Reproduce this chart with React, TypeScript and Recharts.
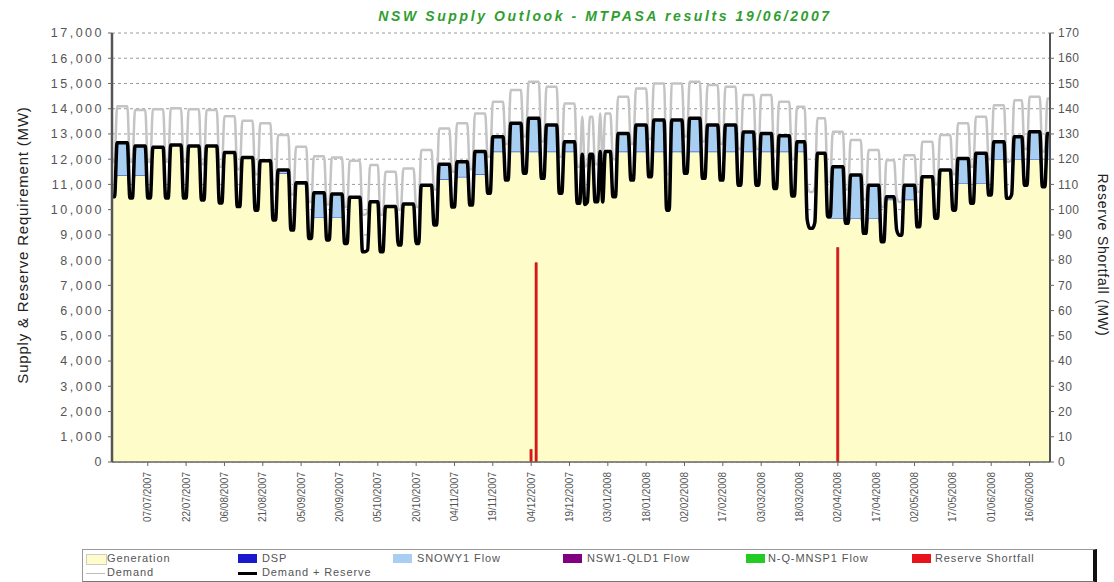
import React from "react";
import { ComposedChart, Area, Line, Bar, XAxis, YAxis, CartesianGrid } from "recharts";

// one value per week, weeks start on Saturday 23/06/2007 (Sat+Sun = low, Mon-Fri = high)
const demandReserveHigh = [
  12650, 12520, 12470, 12560, 12520, 12520, 12260, 12070, 11940, 11570,
  11070, 10670, 10620, 10490, 10310, 10120, 10220, 10970, 11800, 11900,
  12300, 12890, 13420, 13620, 13350, 12690, 12200, 12300, 13020, 13350,
  13550, 13550, 13620, 13350, 13350, 13080, 13020, 12930, 12690, 12230,
  11700, 11370, 10970, 10510, 10970, 11300, 11570, 12030, 12230, 12690,
  12890, 13090, 13020,
];
const demandReserveLow = [
  10510, 10460, 10460, 10460, 10460, 10380, 10260, 10120, 9980, 9590,
  9190, 8860, 8800, 8660, 8330, 8330, 8600, 8660, 9390, 10100,
  10180, 10650, 11170, 11440, 11240, 10650, 10250, 10310, 10510, 11170,
  11300, 9980, 11440, 11240, 11170, 10970, 10970, 10840, 10540, 9260,
  9720, 9460, 9060, 8730, 8990, 9320, 9660, 9980, 10250, 10580,
  10450, 10970, 10910,
];
const demandHigh = [
  14100, 13950, 13980, 14020, 13980, 13950, 13700, 13520, 13420, 12960,
  12490, 12120, 12070, 11940, 11770, 11500, 11630, 12360, 13220, 13420,
  13810, 14280, 14740, 15070, 14870, 14210, 13680, 13810, 14470, 14800,
  15000, 15000, 15070, 14940, 14870, 14540, 14540, 14280, 14080, 13620,
  13090, 12760, 12360, 11960, 12160, 12690, 12960, 13420, 13680, 14140,
  14340, 14470, 14400,
];
const demandLow = [
  11900, 11900, 11900, 11900, 11900, 11800, 11700, 11600, 11400, 11000,
  10600, 10300, 10200, 10100, 9800, 9800, 10000, 10100, 10800, 11500,
  11600, 12100, 12600, 12900, 12700, 12100, 11700, 11800, 12000, 12600,
  12800, 11400, 12900, 12700, 12600, 12400, 12400, 12300, 12000, 10700,
  11100, 10800, 10400, 10100, 10300, 10700, 11000, 11400, 11700, 12000,
  11900, 12400, 12300,
];
const generationCap = [
  11370, 11370, 12600, 12600, 12600, 12600, 12600, 12600, 12600, 11450,
  11000, 9700, 9700, 11000, 11000, 11000, 11000, 11050, 11200, 11300,
  11400, 12300, 12300, 12300, 12300, 12300, 12300, 12300, 12300, 12300,
  12300, 12300, 12300, 12300, 12300, 12300, 12300, 12300, 12300, 12300,
  9660, 9660, 9660, 10400, 10400, 11600, 11600, 11050, 11050, 12000,
  12000, 12000, 12000,
];

// public holidays: day index, demand+reserve, demand
const holidayDays = [100, 185, 186, 192, 272, 275, 307, 352];
const holidayDemandReserve = [8400, 10200, 10300, 10300, 9600, 9500, 9200, 10600];
const holidayDemand = [9900, 11700, 11800, 11800, 11000, 10900, 10500, 12000];

const shortfallDays = [164, 166, 284];
const shortfallValues = [5, 79, 85];

const tickDays = [14, 29, 44, 59, 74, 89, 104, 119, 134, 149, 164, 179, 194, 209, 224, 239, 254, 269, 284, 299, 314, 329, 344, 359];
const tickLabels = [
  "07/07/2007", "22/07/2007", "06/08/2007", "21/08/2007", "05/09/2007", "20/09/2007",
  "05/10/2007", "20/10/2007", "04/11/2007", "19/11/2007", "04/12/2007", "19/12/2007",
  "03/01/2008", "18/01/2008", "02/02/2008", "17/02/2008", "03/03/2008", "18/03/2008",
  "02/04/2008", "17/04/2008", "02/05/2008", "17/05/2008", "01/06/2008", "16/06/2008",
];

const leftTicks = [0, 1000, 2000, 3000, 4000, 5000, 6000, 7000, 8000, 9000, 10000, 11000, 12000, 13000, 14000, 15000, 16000, 17000];
const rightTicks = [0, 10, 20, 30, 40, 50, 60, 70, 80, 90, 100, 110, 120, 130, 140, 150, 160, 170];

const NUM_DAYS = 368;

const data = Array.from({ length: NUM_DAYS }, (_, d) => {
  const w = Math.floor(d / 7);
  const weekend = d % 7 < 2;
  let dr = weekend ? demandReserveLow[w] : demandReserveHigh[w];
  let dem = weekend ? demandLow[w] : demandHigh[w];
  const h = holidayDays.indexOf(d);
  if (h >= 0) {
    dr = holidayDemandReserve[h];
    dem = holidayDemand[h];
  }
  const cap = generationCap[w];
  const s = shortfallDays.indexOf(d);
  return {
    day: d,
    generation: Math.min(dr, cap),
    snowy: Math.max(0, dr - cap),
    demandReserve: dr,
    demand: dem,
    shortfall: s >= 0 ? shortfallValues[s] : null,
  };
});

const FONT = "'Liberation Sans', Arial, sans-serif";
const CURVE = "monotone";

const XTick = (props: any) => {
  const { x, y, payload } = props;
  const i = tickDays.indexOf(payload.value);
  const ty = y + 4;
  return (
    <text
      x={x}
      y={ty}
      transform={`rotate(-90 ${x} ${ty})`}
      textAnchor="end"
      dominantBaseline="central"
      fontSize={10}
      fontFamily={FONT}
      fill="#555"
    >
      {tickLabels[i]}
    </text>
  );
};

const legendRow1 = [
  { label: "Generation", color: "#fefcc8", x: 86, tx: 107 },
  { label: "DSP", color: "#1a1acc", x: 238, tx: 262 },
  { label: "SNOWY1 Flow", color: "#a8cff2", x: 393, tx: 417 },
  { label: "NSW1-QLD1 Flow", color: "#800080", x: 563, tx: 587 },
  { label: "N-Q-MNSP1 Flow", color: "#22cc22", x: 746, tx: 768 },
  { label: "Reserve Shortfall", color: "#e8141c", x: 912, tx: 935 },
];
const legendRow2 = [
  { label: "Demand", color: "#bbbbbb", x: 86, tx: 107 },
  { label: "Demand + Reserve", color: "#000000", x: 238, tx: 262 },
];

export default function App() {
  return (
    <div style={{ position: "absolute", left: 0, top: 0, width: 1114, height: 582, background: "#fff", fontFamily: FONT, overflow: "hidden" }}>
      <div
        style={{
          position: "absolute",
          left: 0,
          width: 1114,
          top: 8,
          textAlign: "center",
          paddingLeft: 96,
          boxSizing: "border-box",
          color: "#2f9e2f",
          fontWeight: "bold",
          fontStyle: "italic",
          fontSize: 14,
          letterSpacing: 2.6,
        }}
      >
        NSW Supply Outlook - MTPASA results 19/06/2007
      </div>
      <div
        style={{
          position: "absolute",
          left: 22,
          top: 245,
          transform: "translate(-50%, -50%) rotate(-90deg)",
          whiteSpace: "nowrap",
          fontSize: 15,
          letterSpacing: 0.8,
          color: "#222",
        }}
      >
        Supply &amp; Reserve Requirement (MW)
      </div>
      <div
        style={{
          position: "absolute",
          left: 1103,
          top: 255,
          transform: "translate(-50%, -50%) rotate(90deg)",
          whiteSpace: "nowrap",
          fontSize: 14,
          letterSpacing: 0.8,
          color: "#222",
        }}
      >
        Reserve Shortfall (MW)
      </div>
      <ComposedChart width={1114} height={548} data={data} margin={{ top: 33, right: 14, left: 40, bottom: 16 }}>
        <CartesianGrid yAxisId="left" vertical={false} stroke="#9a9a9a" strokeDasharray="3 3" />
        <XAxis
          dataKey="day"
          type="number"
          domain={[0, NUM_DAYS - 1]}
          ticks={tickDays}
          interval={0}
          height={70}
          tick={<XTick />}
          tickSize={4}
          stroke="#666"
          axisLine={{ stroke: "#666", strokeWidth: 1.5 }}
        />
        <YAxis
          yAxisId="left"
          width={72}
          domain={[0, 17000]}
          ticks={leftTicks}
          interval={0}
          tickSize={4}
          tickMargin={4}
          tickFormatter={(v: number) => v.toLocaleString("en-US")}
          tick={{ fontSize: 12.5, fill: "#555", fontFamily: FONT, letterSpacing: 2.5 }}
          axisLine={{ stroke: "#555", strokeWidth: 2.5 }}
          tickLine={{ stroke: "#666" }}
        />
        <YAxis
          yAxisId="right"
          orientation="right"
          width={50}
          domain={[0, 170]}
          ticks={rightTicks}
          interval={0}
          tickSize={4}
          tickMargin={4}
          tick={{ fontSize: 12, fill: "#555", fontFamily: FONT, letterSpacing: 0.5 }}
          axisLine={{ stroke: "#555", strokeWidth: 2 }}
          tickLine={{ stroke: "#666" }}
        />
        <Area
          yAxisId="left"
          type={CURVE}
          dataKey="generation"
          stackId="supply"
          fill="#fefcc8"
          fillOpacity={1}
          stroke="#3a5ad0"
          strokeWidth={1.2}
          isAnimationActive={false}
        />
        <Area
          yAxisId="left"
          type={CURVE}
          dataKey="snowy"
          stackId="supply"
          fill="#a8cff2"
          fillOpacity={1}
          stroke="none"
          isAnimationActive={false}
        />
        <Line
          yAxisId="left"
          type={CURVE}
          dataKey="demand"
          stroke="#c4c4c4"
          strokeWidth={2.5}
          dot={false}
          isAnimationActive={false}
        />
        <Line
          yAxisId="left"
          type={CURVE}
          dataKey="demandReserve"
          stroke="#000"
          strokeWidth={3.5}
          dot={false}
          isAnimationActive={false}
        />
        <Bar yAxisId="right" dataKey="shortfall" fill="#e8141c" stroke="#b01010" strokeWidth={0.5} barSize={4} isAnimationActive={false} />
      </ComposedChart>
      <div
        style={{
          position: "absolute",
          left: 82,
          top: 549,
          width: 1010,
          height: 31,
          border: "1px solid #999",
          borderRight: "4px solid #111",
          borderBottom: "2px solid #777",
          background: "#fff",
        }}
      />
      {legendRow1.map((it) => (
        <React.Fragment key={it.label}>
          <div
            style={{
              position: "absolute",
              left: it.x,
              top: 554,
              width: 19,
              height: 9,
              background: it.color,
              border: it.label === "Generation" ? "1px solid #ccc" : "none",
            }}
          />
          <div style={{ position: "absolute", left: it.tx, top: 552, fontSize: 11, letterSpacing: 0.9, color: "#555", whiteSpace: "nowrap" }}>
            {it.label}
          </div>
        </React.Fragment>
      ))}
      {legendRow2.map((it) => (
        <React.Fragment key={it.label}>
          <div
            style={{
              position: "absolute",
              left: it.x,
              top: it.label === "Demand" ? 573 : 572,
              width: 19,
              height: it.label === "Demand" ? 1 : 3,
              background: it.color,
            }}
          />
          <div style={{ position: "absolute", left: it.tx, top: 566, fontSize: 11, letterSpacing: 0.9, color: "#555", whiteSpace: "nowrap" }}>
            {it.label}
          </div>
        </React.Fragment>
      ))}
    </div>
  );
}
